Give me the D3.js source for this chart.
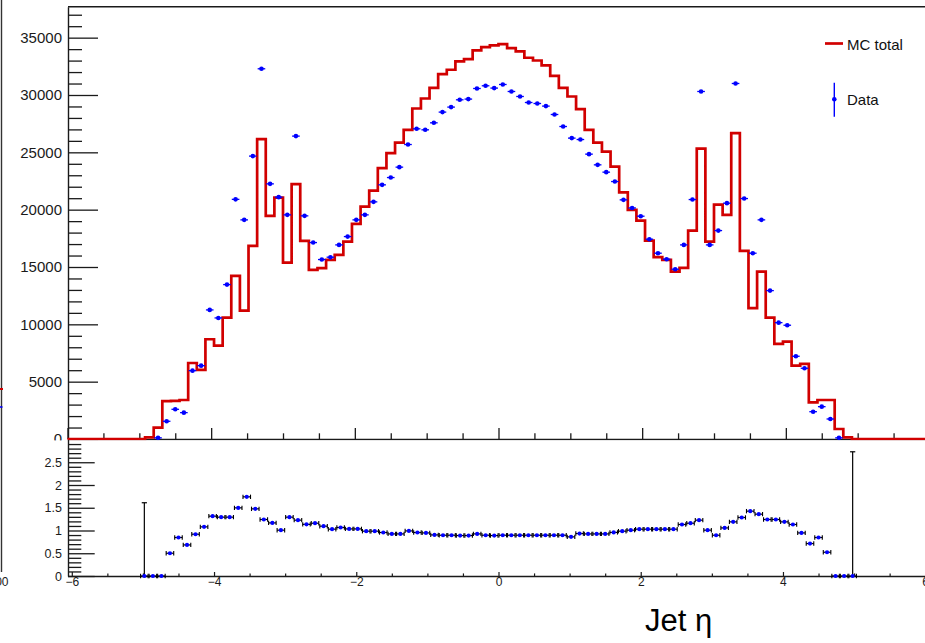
<!DOCTYPE html>
<html>
<head>
<meta charset="utf-8">
<script src="https://cdn.jsdelivr.net/npm/d3@7"></script>
<style>
  html, body { margin: 0; padding: 0; background: #fff; }
  svg { display: block; }
  text { font-family: "Liberation Sans", Arial, Helvetica, sans-serif; }
</style>
</head>
<body>
<svg id="chart" width="925" height="643"></svg>
<script>
// Jet eta histogram: 100 bins of width 0.12 over [-6, 6].
// The arrays below hold the contents of bins 8 .. 91 (all other bins are empty).
const etaMin = -6, etaMax = 6, nBins = 100;
const firstBin = 8;

const mcTotal = [
  0, 150, 990, 3300, 3330, 3400, 6630, 6020, 8700, 8140,
  10590, 14220, 11200, 16840, 26150, 19460, 21055, 15385, 22225, 17278,
  14747, 14895, 15620, 16056, 17217, 18760, 20270, 21667, 23620, 24930,
  25855, 26963, 28822, 29695, 30628, 31824, 32200, 32924, 33133, 33883,
  34180, 34320, 34440, 34093, 33796, 33246, 33010, 32575, 31675, 30628,
  29870, 28770, 26963, 25855, 25070, 23762, 21500, 19983, 19050, 17305,
  15855, 15620, 14600, 14920, 18176, 25330, 17217, 20445, 19546, 26676,
  16405, 11405, 14600, 10585, 8290, 8490, 6396, 6545, 3200, 3400,
  3400, 873, 148, 0
];

const dataCounts = [
  0, 0, 100, 1545, 2590, 2300, 5960, 6396, 11257, 10558,
  13465, 20900, 19110, 24670, 32286, 22250, 21090, 19546, 26414, 19460,
  17130, 15650, 15855, 16928, 17653, 19110, 19546, 20680, 22164, 22801,
  23708, 25681, 27050, 26963, 27574, 28508, 28944, 29581, 29643, 30567,
  30803, 30602, 30916, 30306, 29870, 29346, 29259, 29031, 28299, 27252,
  26239, 26117, 24843, 23909, 23272, 22452, 20855, 20150, 19430, 17426,
  16204, 15680, 14808, 16928, 20882, 30306, 16928, 18176, 20567, 31004,
  20969, 16204, 19110, 12941, 10148, 9921, 7216, 6169, 2382, 2819,
  1745, 100, 0, 0
];

// Data / MC ratio per bin and its upper error (only the edge bins carry a visible one)
const ratioValues = [
  0, 0, 0, 0.50, 0.846, 0.683, 0.918, 1.08, 1.315, 1.293,
  1.293, 1.498, 1.74, 1.476, 1.242, 1.167, 1.007, 1.293, 1.227, 1.135,
  1.16, 1.095, 1.029, 1.066, 1.035, 1.035, 0.985, 0.985, 0.956, 0.925,
  0.925, 0.991, 0.956, 0.947, 0.903, 0.896, 0.896, 0.889, 0.889, 0.925,
  0.896, 0.889, 0.896, 0.896, 0.896, 0.896, 0.896, 0.896, 0.896, 0.896,
  0.86, 0.933, 0.925, 0.925, 0.925, 0.958, 0.985, 1.007, 1.029, 1.029,
  1.029, 1.029, 1.029, 1.132, 1.16, 1.227, 1.007, 0.896, 1.057, 1.19,
  1.286, 1.425, 1.359, 1.242, 1.242, 1.19, 1.132, 0.947, 0.713, 0.846,
  0.522, 0, 0, 0
];
const ratioErrUp = [
  1.61, 0, 0, 0, 0, 0, 0, 0, 0, 0,
  0, 0, 0, 0, 0, 0, 0, 0, 0, 0,
  0, 0, 0, 0, 0, 0, 0, 0, 0, 0,
  0, 0, 0, 0, 0, 0, 0, 0, 0, 0,
  0, 0, 0, 0, 0, 0, 0, 0, 0, 0,
  0, 0, 0, 0, 0, 0, 0, 0, 0, 0,
  0, 0, 0, 0, 0, 0, 0, 0, 0, 0,
  0, 0, 0, 0, 0, 0, 0, 0, 0, 0,
  0, 0, 0, 2.73
];

const yTicksMain = [0, 5000, 10000, 15000, 20000, 25000, 30000, 35000];
const yTicksRatio = [0, 0.5, 1, 1.5, 2, 2.5];
const xTicks = [-6, -4, -2, 0, 2, 4, 6];
const legendLabels = ["MC total", "Data"];
const xTitle = "Jet \u03b7";

const RED = "#d10000", BLUE = "#0000ff", AXIS = "#1a1a1a";
const binWidth = (etaMax - etaMin) / nBins;
const binLow = i => etaMin + (firstBin + i) * binWidth;
const binCenter = i => binLow(i) + binWidth / 2;

const svg = d3.select("#chart");
svg.append("rect").attr("width", 925).attr("height", 643).attr("fill", "#fff");

// ---------- main panel ----------
const x = d3.scaleLinear().domain([etaMin, etaMax]).range([67.5, 929.5]);
const y = d3.scaleLinear().domain([0, 37700]).range([439, 6.7]);
const main = svg.append("g");

// frame top edge
main.append("line").attr("x1", 68).attr("x2", 925).attr("y1", 6.7).attr("y2", 6.7)
  .attr("stroke", AXIS).attr("stroke-width", 1.4);

// y axis: major and minor ticks pointing into the frame
const yMajor = d3.axisLeft(y).tickValues(yTicksMain).tickSizeInner(-30).tickSizeOuter(0)
  .tickPadding(6).tickFormat(d3.format("d"));
const gy = main.append("g").attr("transform", "translate(68,0)").call(yMajor);
gy.select(".domain").attr("stroke", AXIS).attr("stroke-width", 1.4);
gy.selectAll(".tick line").attr("stroke", AXIS).attr("stroke-width", 1.3);
gy.selectAll(".tick text").attr("font-size", 15).attr("fill", AXIS)
  .attr("font-family", "'Liberation Sans', Arial, sans-serif");

const yMinor = d3.axisLeft(y).tickValues(d3.range(0, 37001, 1000).filter(v => v % 5000))
  .tickSizeInner(-14).tickSizeOuter(0).tickFormat("");
const gy2 = main.append("g").attr("transform", "translate(68,0)").call(yMinor);
gy2.select(".domain").remove();
gy2.selectAll(".tick line").attr("stroke", AXIS).attr("stroke-width", 1.3);

// x axis of the main panel (no labels)
const xMajor = d3.axisBottom(x).tickValues(xTicks).tickSizeInner(-11).tickSizeOuter(0).tickFormat("");
const gx = main.append("g").attr("transform", "translate(0,439)").call(xMajor);
gx.select(".domain").attr("stroke", AXIS).attr("stroke-width", 1.4);
gx.selectAll(".tick line").attr("stroke", AXIS).attr("stroke-width", 1.3);
const xMinor = d3.axisBottom(x).tickValues(d3.range(-5.5, 6, 0.5).filter(v => v % 2 !== 0))
  .tickSizeInner(-5.7).tickSizeOuter(0).tickFormat("");
const gx2 = main.append("g").attr("transform", "translate(0,439)").call(xMinor);
gx2.select(".domain").remove();
gx2.selectAll(".tick line").attr("stroke", AXIS).attr("stroke-width", 1.3);

// MC total as a step histogram over the full range
const mcPoints = [];
for (let b = 0; b < nBins; b++) {
  const i = b - firstBin;
  const v = (i >= 0 && i < mcTotal.length) ? mcTotal[i] : 0;
  mcPoints.push([etaMin + b * binWidth, v]);
}
mcPoints.push([etaMax, 0]);
const step = d3.line().x(d => x(d[0])).y(d => y(d[1])).curve(d3.curveStepAfter);
main.append("path").attr("d", step(mcPoints)).attr("fill", "none")
  .attr("stroke", RED).attr("stroke-width", 2.7).attr("stroke-linejoin", "miter");

// data points with horizontal bin-width bars
const dataIdx = d3.range(dataCounts.length).filter(i => dataCounts[i] > 0);
const dg = main.append("g");
dg.selectAll("line.hbar").data(dataIdx).join("line")
  .attr("x1", i => x(binLow(i)) + 0.5).attr("x2", i => x(binLow(i) + binWidth) - 0.5)
  .attr("y1", i => y(dataCounts[i])).attr("y2", i => y(dataCounts[i]))
  .attr("stroke", BLUE).attr("stroke-width", 1.3);
dg.selectAll("circle").data(dataIdx).join("circle")
  .attr("cx", i => x(binCenter(i))).attr("cy", i => y(dataCounts[i]))
  .attr("r", 2.3).attr("fill", BLUE);

// legend
const lg = svg.append("g");
lg.append("line").attr("x1", 825).attr("x2", 843).attr("y1", 43.5).attr("y2", 43.5)
  .attr("stroke", RED).attr("stroke-width", 2.7);
lg.append("text").attr("x", 847).attr("y", 49.5).attr("font-size", 15).attr("fill", "#111")
  .text(legendLabels[0]);
lg.append("line").attr("x1", 834.3).attr("x2", 834.3).attr("y1", 82.7).attr("y2", 116.7)
  .attr("stroke", BLUE).attr("stroke-width", 1.4);
lg.append("circle").attr("cx", 834.3).attr("cy", 99.3).attr("r", 2.3).attr("fill", BLUE);
lg.append("text").attr("x", 847).attr("y", 104.8).attr("font-size", 15).attr("fill", "#111")
  .text(legendLabels[1]);

// ---------- ratio panel ----------
svg.append("rect").attr("x", 0).attr("y", 440.4).attr("width", 925).attr("height", 203)
  .attr("fill", "#fff");
const xr = d3.scaleLinear().domain([etaMin, etaMax]).range([71.8, 925.2]);
const yr = d3.scaleLinear().domain([0, 3]).range([576, 439.5]);
const rp = svg.append("g");

const ryMajor = d3.axisLeft(yr).tickValues(yTicksRatio).tickSizeInner(-26.7).tickSizeOuter(0)
  .tickPadding(6).tickFormat(d => String(d));
const gry = rp.append("g").attr("transform", "translate(68,0)").call(ryMajor);
gry.select(".domain").attr("stroke", AXIS).attr("stroke-width", 1.4);
gry.selectAll(".tick line").attr("stroke", AXIS).attr("stroke-width", 1.3);
gry.selectAll(".tick text").attr("font-size", 12.5).attr("fill", AXIS)
  .attr("font-family", "'Liberation Sans', Arial, sans-serif");
const ryMinor = d3.axisLeft(yr).tickValues(d3.range(1, 30).filter(k => k % 5).map(k => k / 10))
  .tickSizeInner(-13.3).tickSizeOuter(0).tickFormat("");
const gry2 = rp.append("g").attr("transform", "translate(68,0)").call(ryMinor);
gry2.select(".domain").remove();
gry2.selectAll(".tick line").attr("stroke", AXIS).attr("stroke-width", 1.3);

const rxMajor = d3.axisBottom(xr).tickValues(xTicks).tickSizeInner(-4).tickSizeOuter(0).tickPadding(1.5);
const grx = rp.append("g").attr("transform", "translate(0,576)").call(rxMajor);
grx.select(".domain").attr("d", "M68,0.5H925").attr("stroke", AXIS).attr("stroke-width", 1.4);
grx.selectAll(".tick line").attr("stroke", AXIS).attr("stroke-width", 1.2);
grx.selectAll(".tick text").attr("font-size", 12).attr("fill", AXIS)
  .attr("font-family", "'Liberation Sans', Arial, sans-serif");
const rxMinor = d3.axisBottom(xr).tickValues(d3.range(-5.5, 6, 0.5).filter(v => v % 2 !== 0))
  .tickSizeInner(-2.6).tickSizeOuter(0).tickFormat("");
const grx2 = rp.append("g").attr("transform", "translate(0,576)").call(rxMinor);
grx2.select(".domain").remove();
grx2.selectAll(".tick line").attr("stroke", AXIS).attr("stroke-width", 1.2);

// ratio points: black bin-width bars with end caps, vertical error where visible, blue marker
const ridx = d3.range(ratioValues.length);
const rg = rp.append("g");
ridx.forEach(i => {
  const xc = xr(binCenter(i));
  const half = (xr(binWidth) - xr(0)) / 2;
  const yc = yr(ratioValues[i]);
  const g = rg.append("g");
  g.append("line").attr("x1", xc - half + 0.5).attr("x2", xc + half - 0.5).attr("y1", yc).attr("y2", yc)
    .attr("stroke", "#000").attr("stroke-width", 1.2);
  [xc - half + 0.5, xc + half - 0.5].forEach(xe => {
    g.append("line").attr("x1", xe).attr("x2", xe).attr("y1", yc - 2.2).attr("y2", yc + 2.2)
      .attr("stroke", "#000").attr("stroke-width", 1.1);
  });
  if (ratioErrUp[i] > 0) {
    const yt = yr(ratioValues[i] + ratioErrUp[i]);
    g.append("line").attr("x1", xc).attr("x2", xc).attr("y1", yc).attr("y2", yt)
      .attr("stroke", "#000").attr("stroke-width", 1.2);
    g.append("line").attr("x1", xc - 2.6).attr("x2", xc + 2.6).attr("y1", yt).attr("y2", yt)
      .attr("stroke", "#000").attr("stroke-width", 1.2);
  }
  g.append("circle").attr("cx", xc).attr("cy", yc).attr("r", 2.1).attr("fill", BLUE);
});

// axis title
svg.append("text").attr("x", 645).attr("y", 631).attr("font-size", 31)
  .attr("font-family", "'Open Sans', 'Noto Sans', sans-serif").attr("fill", "#000")
  .text(xTitle);

// edge of the neighbouring pad on the left
svg.append("line").attr("x1", 1.5).attr("x2", 1.5).attr("y1", 0).attr("y2", 572)
  .attr("stroke", "#333").attr("stroke-width", 1.4);
svg.append("line").attr("x1", 0).attr("x2", 3).attr("y1", 389).attr("y2", 389)
  .attr("stroke", RED).attr("stroke-width", 2);
svg.append("line").attr("x1", 0).attr("x2", 2.5).attr("y1", 407).attr("y2", 407)
  .attr("stroke", BLUE).attr("stroke-width", 1.6);
svg.append("text").attr("x", 8.5).attr("y", 586).attr("text-anchor", "end")
  .attr("font-size", 12).attr("fill", AXIS).text("00");
</script>
</body>
</html>
